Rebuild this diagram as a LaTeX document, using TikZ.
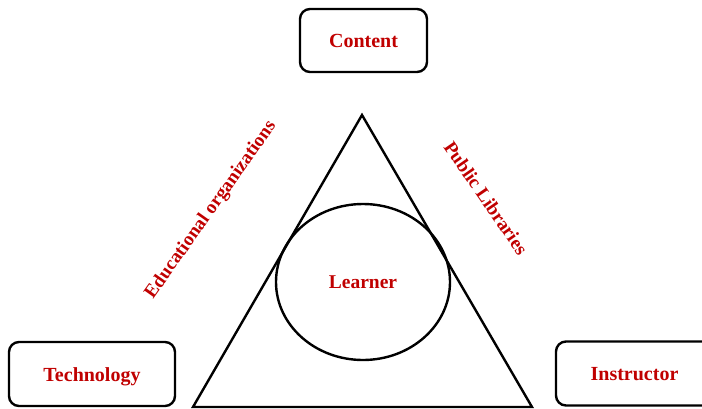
\documentclass[tikz,border=0pt]{standalone}
\usepackage{fontspec}
\setmainfont{Liberation Serif}
\usetikzlibrary{shapes.geometric}
\definecolor{labred}{HTML}{C00000}
\begin{document}
\begin{tikzpicture}[x=1pt,y=-1pt,
  lbl/.style={font=\fontsize{19.5}{22}\selectfont\bfseries, text=labred},
  box/.style={draw=black, line width=2.4pt, rounded corners=10pt, inner sep=0pt, lbl, font=\fontsize{20}{22}\selectfont\bfseries, text height=14pt, text depth=0pt},
  ln/.style={draw=black, line width=2.4pt}]
\useasboundingbox (0,0) rectangle (702,408);
\node[box, minimum width=127pt, minimum height=63pt] (content) at (363.5,40.5) {Content};
\node[box, minimum width=166pt, minimum height=64pt] (tech) at (92,374) {Technology};
\node[box, minimum width=157pt, minimum height=64pt] (instr) at (634.5,373.5) {Instructor};
\coordinate (apex) at (362,115);
\coordinate (bl) at (193,407);
\coordinate (br) at (532,407);
\draw[ln, line join=miter] (apex) -- (bl) -- (br) -- cycle;
\node[ln, ellipse, minimum width=174pt, minimum height=156pt, inner sep=0pt, lbl] (learner) at (363,282) {Learner};
\node[lbl, rotate=54.7, inner sep=0pt, font=\fontsize{19}{22}\selectfont\bfseries] (edu) at (211,210) {Educational organizations};
\node[lbl, rotate=-55.4, inner sep=0pt, font=\fontsize{19}{22}\selectfont\bfseries] (pub) at (486,198) {Public Libraries};
\end{tikzpicture}
\end{document}
